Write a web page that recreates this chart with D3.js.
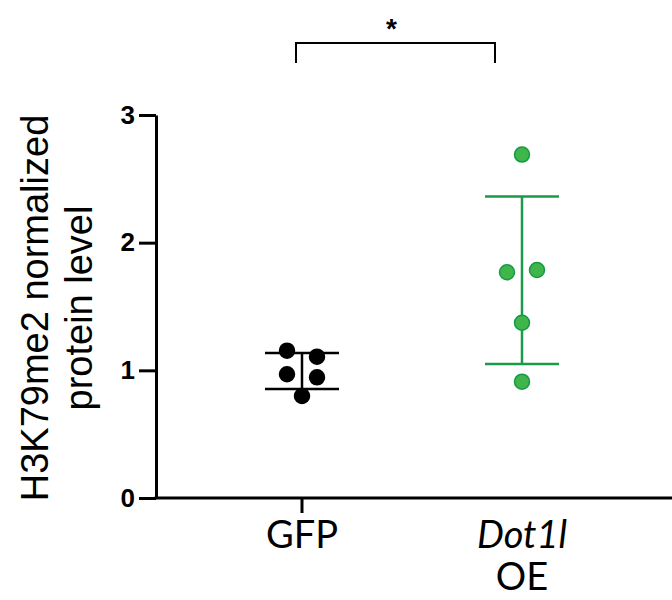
<!DOCTYPE html>
<html>
<head>
<meta charset="utf-8">
<script src="https://cdn.jsdelivr.net/npm/d3@7"></script>
<style>
  body { margin: 0; background: #fff; }
  svg { display: block; }
</style>
</head>
<body>
<svg id="chart" width="672" height="600"></svg>
<script>
const groups = ['GFP', 'Dot1l OE'];
const gfpValues = [1.154, 1.107, 0.969, 0.945, 0.799];
const oeValues = [2.69, 1.768, 1.786, 1.373, 0.911];
// column slot of each point in the scatter (-1 left, 0 centre, 1 right)
const gfpSlots = [-1, 1, -1, 1, 0];
const oeSlots = [0, -1, 1, 0, 0];
const yTicks = [0, 1, 2, 3];
const sigLabel = '*';

const series = [
    { group: groups[0], values: gfpValues, slots: gfpSlots, fill: '#000', stroke: '#000', bar: '#000' },
    { group: groups[1], values: oeValues, slots: oeSlots, fill: '#40b54a', stroke: '#139a48', bar: '#1a9a4a' }
];

const svg = d3.select('#chart');

const y = d3.scaleLinear().domain([0, 3]).range([498, 115]);
const x = d3.scalePoint().domain(groups).range([302, 522]);
const axisX = 156;

// y axis
const yAxis = svg.append('g')
    .attr('transform', `translate(${axisX},0)`)
    .call(d3.axisLeft(y).tickValues(yTicks).tickFormat(d3.format('d')).tickSize(17).tickSizeOuter(0));
yAxis.select('.domain').attr('stroke', '#000').attr('stroke-width', 3);
yAxis.selectAll('.tick line').attr('stroke', '#000').attr('stroke-width', 3);
yAxis.selectAll('.tick text')
    .attr('x', -21)
    .attr('font-family', 'Liberation Sans, Arial, sans-serif')
    .attr('font-weight', 'bold')
    .attr('font-size', 26)
    .attr('fill', '#000');

// x axis line (runs to the right edge), tick only under GFP
svg.append('line')
    .attr('x1', axisX - 1.5).attr('x2', 672)
    .attr('y1', y(0)).attr('y2', y(0))
    .attr('stroke', '#000').attr('stroke-width', 3);
svg.append('line')
    .attr('x1', x(groups[0])).attr('x2', x(groups[0]))
    .attr('y1', y(0)).attr('y2', y(0) + 15)
    .attr('stroke', '#000').attr('stroke-width', 3);

// x labels
const labelFont = 'Lato, "Open Sans", sans-serif';
const labelSize = 38;
svg.append('text')
    .attr('x', x(groups[0])).attr('y', 548)
    .attr('text-anchor', 'middle')
    .attr('font-family', labelFont).attr('font-size', labelSize)
    .text('GFP');
const oeLabel = svg.append('text')
    .attr('x', x(groups[1])).attr('y', 548)
    .attr('text-anchor', 'middle')
    .attr('font-family', labelFont).attr('font-size', labelSize);
oeLabel.append('tspan').attr('font-style', 'italic').text('Dot1l');
svg.append('text')
    .attr('x', x(groups[1])).attr('y', 590)
    .attr('text-anchor', 'middle')
    .attr('font-family', labelFont).attr('font-size', labelSize)
    .text('OE');

// y title
const yTitle = svg.append('text')
    .attr('transform', 'translate(0,308) rotate(-90)')
    .attr('text-anchor', 'middle')
    .attr('font-family', 'Liberation Sans, Arial, sans-serif')
    .attr('font-size', 38)
    .attr('fill', '#000');
yTitle.append('tspan').attr('x', 0).attr('y', 48).text('H3K79me2 normalized');
yTitle.append('tspan').attr('x', 0).attr('y', 92).text('protein level');

// error bars (mean ± SD) and points
const capHalf = 37;
const slotStep = 15;
series.forEach(s => {
    const cx = x(s.group);
    const mean = d3.mean(s.values);
    const sd = d3.deviation(s.values);
    const g = svg.append('g');
    g.append('line')
        .attr('x1', cx).attr('x2', cx)
        .attr('y1', y(mean + sd)).attr('y2', y(mean - sd))
        .attr('stroke', s.bar).attr('stroke-width', 2.5);
    [mean + sd, mean - sd].forEach(v => {
        g.append('line')
            .attr('x1', cx - capHalf).attr('x2', cx + capHalf)
            .attr('y1', y(v)).attr('y2', y(v))
            .attr('stroke', s.bar).attr('stroke-width', 2.5);
    });
    g.selectAll('circle')
        .data(s.values)
        .enter()
        .append('circle')
        .attr('cx', (d, i) => cx + s.slots[i] * slotStep)
        .attr('cy', d => y(d))
        .attr('r', 7.5)
        .attr('fill', s.fill)
        .attr('stroke', s.stroke)
        .attr('stroke-width', 1.5);
});

// significance bracket
const bTop = 43;
const bBottom = 63;
const bx1 = x(groups[0]) - 6;
const bx2 = x(groups[1]) - 27;
svg.append('path')
    .attr('d', `M${bx1},${bBottom}V${bTop}H${bx2}V${bBottom}`)
    .attr('fill', 'none')
    .attr('stroke', '#000')
    .attr('stroke-width', 2);
svg.append('text')
    .attr('x', (bx1 + bx2) / 2 - 4).attr('y', 38)
    .attr('text-anchor', 'middle')
    .attr('font-family', 'Liberation Sans, Arial, sans-serif')
    .attr('font-weight', 'bold')
    .attr('font-size', 28)
    .text(sigLabel);
</script>
</body>
</html>
